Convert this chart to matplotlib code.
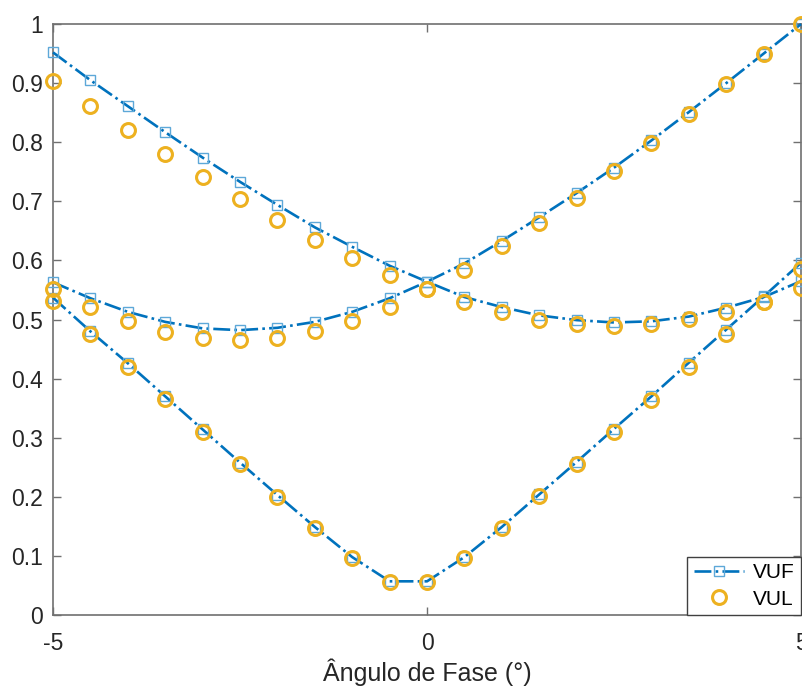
import matplotlib
matplotlib.use("Agg")
import matplotlib.pyplot as plt

plt.rcParams['font.family'] = ['Liberation Sans', 'DejaVu Sans']

angle = [-5, -4.5, -4, -3.5, -3, -2.5, -2, -1.5, -1, -0.5, 0,
         0.5, 1, 1.5, 2, 2.5, 3, 3.5, 4, 4.5, 5]

vuf_a = [0.952, 0.905, 0.861, 0.817, 0.774, 0.733, 0.694, 0.656, 0.623, 0.591, 0.564,
         0.538, 0.521, 0.507, 0.499, 0.495, 0.497, 0.505, 0.520, 0.538, 0.565]
vul_a = [0.903, 0.861, 0.821, 0.780, 0.742, 0.704, 0.668, 0.635, 0.604, 0.575, 0.551,
         0.530, 0.513, 0.500, 0.492, 0.489, 0.492, 0.501, 0.513, 0.530, 0.553]

vuf_b = [0.563, 0.536, 0.513, 0.496, 0.485, 0.482, 0.486, 0.496, 0.513, 0.536, 0.564,
         0.595, 0.633, 0.673, 0.714, 0.757, 0.803, 0.851, 0.900, 0.950, 1.000]
vul_b = [0.552, 0.522, 0.498, 0.479, 0.468, 0.465, 0.468, 0.480, 0.497, 0.522, 0.551,
         0.584, 0.624, 0.664, 0.706, 0.752, 0.799, 0.848, 0.898, 0.949, 1.000]

vuf_c = [0.537, 0.480, 0.426, 0.370, 0.314, 0.258, 0.203, 0.149, 0.098, 0.057, 0.057,
         0.098, 0.149, 0.204, 0.259, 0.315, 0.370, 0.427, 0.483, 0.539, 0.596]
vul_c = [0.531, 0.475, 0.420, 0.365, 0.310, 0.255, 0.200, 0.147, 0.096, 0.055, 0.055,
         0.096, 0.147, 0.201, 0.255, 0.310, 0.364, 0.420, 0.475, 0.530, 0.585]

xticks = [-5, 0, 5]
yticks = [0, 0.1, 0.2, 0.3, 0.4, 0.5, 0.6, 0.7, 0.8, 0.9, 1]
ytick_labels = ['0', '0.1', '0.2', '0.3', '0.4', '0.5', '0.6', '0.7', '0.8', '0.9', '1']

line_color = '#0072BD'
sq_color = '#5DA8D8'
circ_color = '#EDB120'

fig = plt.figure(figsize=(8.02, 6.87), dpi=100)
ax = fig.add_axes([0.0661, 0.1048, 0.9327, 0.8602])

vuf_kw = dict(color=line_color, linestyle='-.', linewidth=1.9, marker='s',
              markersize=7.5, markerfacecolor='none', markeredgecolor=sq_color,
              markeredgewidth=1.0, clip_on=False, zorder=3)
vul_kw = dict(color=circ_color, linestyle='none', marker='o', markersize=10,
              markerfacecolor='none', markeredgewidth=2.2, clip_on=False, zorder=4)

ax.plot(angle, vuf_a, label='VUF', **vuf_kw)
ax.plot(angle, vuf_b, **vuf_kw)
ax.plot(angle, vuf_c, **vuf_kw)
ax.plot(angle, vul_a, label='VUL', **vul_kw)
ax.plot(angle, vul_b, **vul_kw)
ax.plot(angle, vul_c, **vul_kw)

ax.set_xlim(-5, 5)
ax.set_ylim(0, 1)
ax.set_xticks(xticks)
ax.set_xticklabels([str(t) for t in xticks])
ax.set_yticks(yticks)
ax.set_yticklabels(ytick_labels)

spine_color = '#707070'
for s in ax.spines.values():
    s.set_color(spine_color)
    s.set_linewidth(1.2)
ax.tick_params(direction='in', length=6, width=1.0, color=spine_color,
               labelsize=16.5, labelcolor='#262626', top=True, right=True)
ax.tick_params(axis='x', pad=12)
ax.tick_params(axis='y', pad=7)

ax.set_xlabel('Ângulo de Fase (°)', fontsize=18, color='#262626', labelpad=3)

leg = ax.legend(loc='lower right', fontsize=15, fancybox=False, frameon=True,
                borderaxespad=0, handlelength=2.4, handletextpad=0.45,
                borderpad=0.3, labelspacing=0.35)
leg.get_frame().set_edgecolor('#404040')
leg.get_frame().set_linewidth(1.0)
leg.get_frame().set_alpha(1)

fig.savefig('out.png', dpi=100)
